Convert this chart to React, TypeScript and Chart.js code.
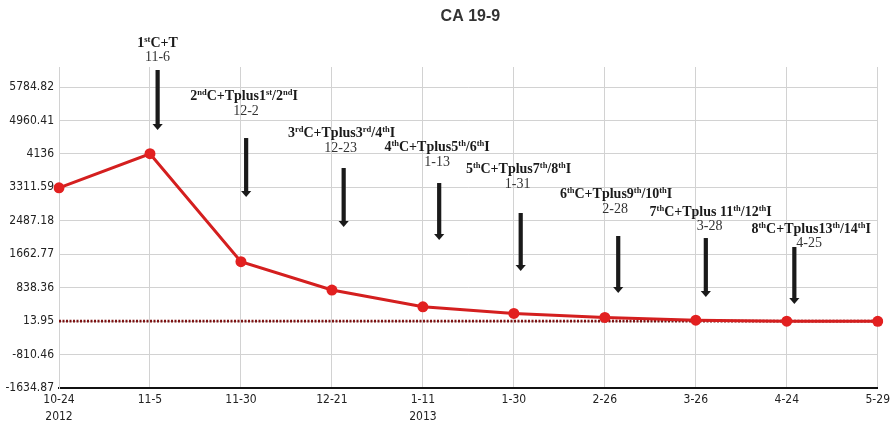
import React, { useEffect, useRef } from 'react';
import { Chart, registerables } from 'chart.js';

Chart.register(...registerables);

// ---- data ----
const categories: (string | string[])[] = [
  ['10-24', '2012'], '11-5', '11-30', '12-21', ['1-11', '2013'], '1-30', '2-26', '3-26', '4-24', '5-29',
];
const ca199Values = [3300, 4140, 1478, 780, 367, 204, 105, 38, 12, 10];
const referenceValue = 13.95;
const yTickValues = [-1634.87, -810.46, 13.95, 838.36, 1662.77, 2487.18, 3311.59, 4136, 4960.41, 5784.82];
const treatmentLabels = [
  '1{st}C+T',
  '2{nd}C+Tplus1{st}/2{nd}I',
  '3{rd}C+Tplus3{rd}/4{th}I',
  '4{th}C+Tplus5{th}/6{th}I',
  '5{th}C+Tplus7{th}/8{th}I',
  '6{th}C+Tplus9{th}/10{th}I',
  '7{th}C+Tplus 11{th}/12{th}I',
  '8{th}C+Tplus13{th}/14{th}I',
];
const treatmentDates = ['11-6', '12-2', '12-23', '1-13', '1-31', '2-28', '3-28', '4-25'];

// ---- annotation layout (x in category-index units, y in value units) ----
const annotationLayout = [
  { textX: 1.083, dateX: 1.083, arrowX: 1.083, textY: 6894, dateY: 6524, arrowTop: 6204, arrowBottom: 4725 },
  { textX: 2.034, dateX: 2.056, arrowX: 2.056, textY: 5587, dateY: 5193, arrowTop: 4527, arrowBottom: 3073 },
  { textX: 3.106, dateX: 3.095, arrowX: 3.128, textY: 4675, dateY: 4281, arrowTop: 3788, arrowBottom: 2334 },
  { textX: 4.156, dateX: 4.156, arrowX: 4.178, textY: 4330, dateY: 3936, arrowTop: 3418, arrowBottom: 2013 },
  { textX: 5.052, dateX: 5.041, arrowX: 5.074, textY: 3788, dateY: 3394, arrowTop: 2679, arrowBottom: 1249 },
  { textX: 6.124, dateX: 6.113, arrowX: 6.146, textY: 3172, dateY: 2777, arrowTop: 2112, arrowBottom: 707 },
  { textX: 7.163, dateX: 7.152, arrowX: 7.109, textY: 2728, dateY: 2358, arrowTop: 2062, arrowBottom: 608 },
  { textX: 8.268, dateX: 8.246, arrowX: 8.082, textY: 2309, dateY: 1939, arrowTop: 1841, arrowBottom: 435 },
];

const TICK_FONT = "'DejaVu Sans Condensed', 'Liberation Sans Narrow', 'Arial Narrow', sans-serif";
const SERIF = "'Liberation Serif', 'Times New Roman', serif";

function parseRich(s: string) {
  const parts: { t: string; sup: boolean }[] = [];
  const re = /\{([^}]*)\}|([^{]+)/g;
  let m: RegExpExecArray | null;
  while ((m = re.exec(s))) {
    if (m[1] !== undefined) parts.push({ t: m[1], sup: true });
    else parts.push({ t: m[2], sup: false });
  }
  return parts;
}

function drawRich(ctx: CanvasRenderingContext2D, text: string, cx: number, cy: number) {
  const parts = parseRich(text);
  const main = `bold 14px ${SERIF}`;
  const sup = `bold 8.5px ${SERIF}`;
  let w = 0;
  for (const p of parts) {
    ctx.font = p.sup ? sup : main;
    w += ctx.measureText(p.t).width;
  }
  let x = cx - w / 2;
  const base = cy + 5;
  ctx.textAlign = 'left';
  ctx.textBaseline = 'alphabetic';
  for (const p of parts) {
    ctx.font = p.sup ? sup : main;
    ctx.fillText(p.t, x, p.sup ? base - 5 : base);
    x += ctx.measureText(p.t).width;
  }
}

const annotationPlugin = {
  id: 'treatmentAnnotations',
  afterDatasetsDraw(chart: any) {
    const ctx: CanvasRenderingContext2D = chart.ctx;
    const xs = chart.scales.x;
    const ys = chart.scales.y;
    const area = chart.chartArea;
    ctx.save();
    // title
    ctx.fillStyle = '#333';
    ctx.font = "bold 16px 'Liberation Sans', Arial, sans-serif";
    ctx.textAlign = 'center';
    ctx.textBaseline = 'middle';
    ctx.fillText('CA 19-9', (area.left + area.right) / 2 + 2, 17);

    annotationLayout.forEach((a, i) => {
      ctx.fillStyle = '#1a1a1a';
      drawRich(ctx, treatmentLabels[i], xs.getPixelForValue(a.textX), ys.getPixelForValue(a.textY));
      ctx.font = `14px ${SERIF}`;
      ctx.textAlign = 'center';
      ctx.textBaseline = 'middle';
      ctx.fillStyle = '#333';
      ctx.fillText(treatmentDates[i], xs.getPixelForValue(a.dateX), ys.getPixelForValue(a.dateY));
      // arrow
      const ax = xs.getPixelForValue(a.arrowX);
      const top = ys.getPixelForValue(a.arrowTop);
      const bottom = ys.getPixelForValue(a.arrowBottom);
      const headH = 6;
      const headW = 5;
      ctx.fillStyle = '#1a1a1a';
      ctx.fillRect(ax - 2, top, 4.2, bottom - top - headH + 1);
      ctx.beginPath();
      ctx.moveTo(ax - headW, bottom - headH);
      ctx.lineTo(ax + headW + 0.2, bottom - headH);
      ctx.lineTo(ax + 0.1, bottom);
      ctx.closePath();
      ctx.fill();
    });
    ctx.restore();
  },
};

export default function App() {
  const canvasRef = useRef<HTMLCanvasElement | null>(null);

  useEffect(() => {
    if (!canvasRef.current) return;
    const chart = new Chart(canvasRef.current, {
      type: 'line',
      data: {
        labels: categories as any,
        datasets: [
          {
            label: 'CA 19-9',
            data: ca199Values,
            borderColor: '#d41f1f',
            backgroundColor: '#e22020',
            borderWidth: 3,
            pointRadius: 5.5,
            pointHoverRadius: 5.5,
            pointBorderWidth: 0,
            tension: 0,
          },
          {
            label: 'Reference',
            data: categories.map(() => referenceValue),
            borderColor: '#7d1212',
            borderWidth: 2.8,
            borderDash: [2, 1.5],
            pointRadius: 0,
            pointHoverRadius: 0,
          },
        ],
      },
      options: {
        animation: false,
        responsive: true,
        maintainAspectRatio: false,
        layout: { padding: { left: 0, right: 11, top: 67, bottom: 0 } },
        plugins: {
          legend: { display: false },
          title: { display: false },
          tooltip: { enabled: false },
        },
        scales: {
          x: {
            offset: false,
            grid: { color: '#d2d2d2', lineWidth: 1, drawTicks: false },
            border: { color: '#111', width: 2 },
            ticks: {
              color: '#222',
              font: { family: TICK_FONT, size: 12, lineHeight: 1.45 },
              padding: 3,
              maxRotation: 0,
              autoSkip: false,
            },
            afterFit: (scale: any) => {
              scale.height = 43;
            },
          },
          y: {
            min: -1634.87,
            max: 6278,
            afterBuildTicks: (scale: any) => {
              scale.ticks = yTickValues.map((v) => ({ value: v }));
            },
            grid: { color: '#d2d2d2', lineWidth: 1, drawTicks: false },
            border: { color: '#d2d2d2', width: 1 },
            ticks: {
              color: '#222',
              font: { family: TICK_FONT, size: 12 },
              padding: 5,
              callback: (v: any) => String(v),
            },
            afterFit: (scale: any) => {
              scale.width = 59;
            },
          },
        },
      },
      plugins: [annotationPlugin],
    });
    return () => chart.destroy();
  }, []);

  return (
    <div style={{ position: 'fixed', left: 0, top: 0, width: 893, height: 431, background: '#fff' }}>
      <canvas ref={canvasRef} />
    </div>
  );
}
